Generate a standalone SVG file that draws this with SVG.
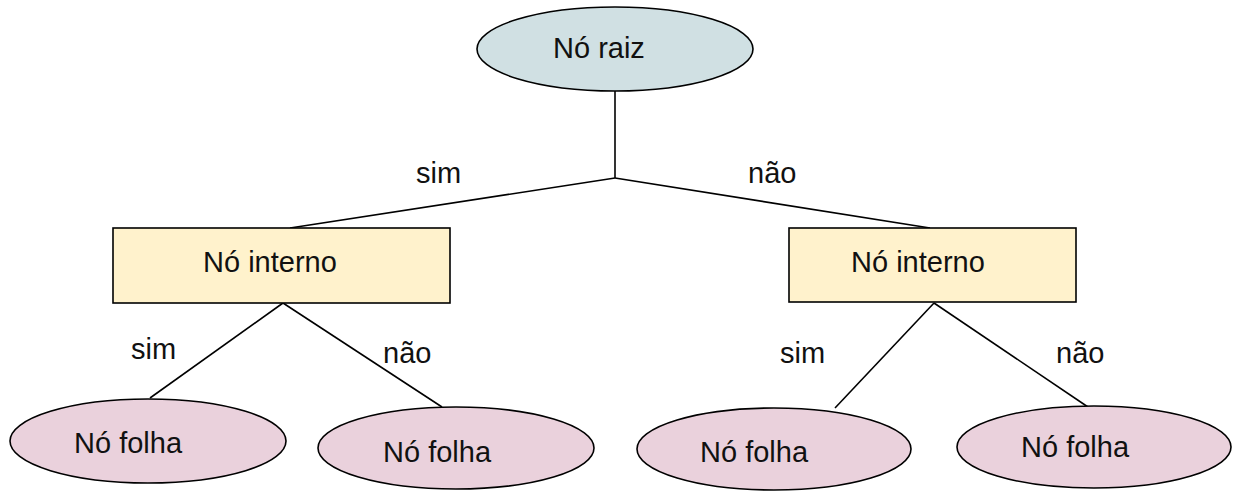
<svg xmlns="http://www.w3.org/2000/svg" width="1233" height="491" viewBox="0 0 1233 491">
  <style>
    .edge { stroke: #000; stroke-width: 1.6; fill: none; }
    .node { stroke: #000; stroke-width: 1.6; }
    .root { fill: #d0e0e3; }
    .inner { fill: #fff2cc; }
    .leaf { fill: #ead1dc; }
    text { font-family: "Liberation Sans", Arial, sans-serif; font-size: 29px; fill: #111; }
  </style>
  <rect width="1233" height="491" fill="#fff"/>

  <!-- branches -->
  <g id="connectors">
    <polyline class="edge" points="615,91 615,178"/>
    <polyline class="edge" points="615,178 290,228"/>
    <polyline class="edge" points="615,178 930,228"/>
    <polyline class="edge" points="283,303 150,398"/>
    <polyline class="edge" points="283,303 442,407"/>
    <polyline class="edge" points="934,303 835,408"/>
    <polyline class="edge" points="934,303 1088,407"/>
  </g>

  <!-- branch labels -->
  <g id="labels">
    <text x="416" y="183">sim</text>
    <text x="748" y="183">não</text>
    <text x="131" y="359">sim</text>
    <text x="383" y="363">não</text>
    <text x="780" y="363">sim</text>
    <text x="1056" y="363">não</text>
  </g>

  <g id="root">
    <ellipse class="node root" cx="615" cy="49" rx="138" ry="42"/>
    <text x="553" y="58">Nó raiz</text>
  </g>

  <g id="inner-left">
    <rect class="node inner" x="113" y="228" width="337" height="75"/>
    <text x="203" y="272">Nó interno</text>
  </g>

  <g id="inner-right">
    <rect class="node inner" x="789" y="228" width="287" height="74"/>
    <text x="851" y="272">Nó interno</text>
  </g>

  <g id="leaf-1">
    <ellipse class="node leaf" cx="148" cy="441" rx="138" ry="42"/>
    <text x="74" y="453">Nó folha</text>
  </g>

  <g id="leaf-2">
    <ellipse class="node leaf" cx="456" cy="448" rx="138" ry="41"/>
    <text x="383" y="462">Nó folha</text>
  </g>

  <g id="leaf-3">
    <ellipse class="node leaf" cx="774" cy="449" rx="137" ry="41"/>
    <text x="700" y="462">Nó folha</text>
  </g>

  <g id="leaf-4">
    <ellipse class="node leaf" cx="1094" cy="447" rx="137" ry="41"/>
    <text x="1021" y="457">Nó folha</text>
  </g>
</svg>
